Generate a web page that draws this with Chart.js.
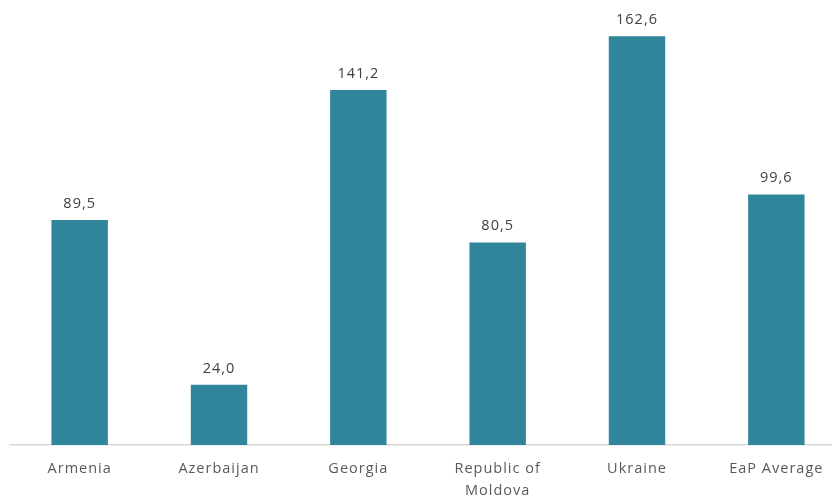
<!DOCTYPE html>
<html>
<head>
<meta charset="utf-8">
<script src="https://cdn.jsdelivr.net/npm/chart.js@4"></script>
<style>
  html, body { margin: 0; padding: 0; background: #fff; overflow: hidden; }
  #wrap { width: 846px; height: 500px; }
</style>
</head>
<body>
<div id="wrap"><canvas id="barChart"></canvas></div>
<script>
// Valores por país
const countries = ['Armenia', 'Azerbaijan', 'Georgia', ['Republic of', 'Moldova'], 'Ukraine', 'EaP Average'];
const values = [89.5, 24.0, 141.2, 80.5, 162.6, 99.6];

const barColor = '#31869b';
const textColor = '#595959';

// Rótulos de valor acima de cada barra (vírgula decimal)
const valueLabels = {
    id: 'valueLabels',
    afterDatasetsDraw(chart) {
        const ctx = chart.ctx;
        const meta = chart.getDatasetMeta(0);
        ctx.save();
        ctx.font = '14.5px "Open Sans"';
        ctx.fillStyle = '#404040';
        ctx.textAlign = 'center';
        ctx.textBaseline = 'bottom';
        meta.data.forEach((bar, i) => {
            ctx.fillText(values[i].toFixed(1).replace('.', ','), bar.x, bar.y - 9);
        });
        ctx.restore();
    }
};

// Espaçamento entre letras, como no original
const spacing = {
    id: 'spacing',
    beforeDraw(chart) {
        chart.ctx.letterSpacing = '1px';
    }
};

new Chart(document.getElementById('barChart'), {
    type: 'bar',
    data: {
        labels: countries,
        datasets: [{
            data: values,
            backgroundColor: barColor,
            categoryPercentage: 1,
            barPercentage: 0.405
        }]
    },
    options: {
        responsive: true,
        maintainAspectRatio: false,
        animation: false,
        layout: { padding: { left: 10, right: 0, top: 0, bottom: 0 } },
        plugins: {
            legend: { display: false },
            tooltip: { enabled: false }
        },
        scales: {
            x: {
                grid: { display: false, drawTicks: false },
                border: { color: '#d9d9d9', width: 1.5 },
                ticks: {
                    color: textColor,
                    font: { family: '"Open Sans"', size: 14.5, lineHeight: 1.5 },
                    padding: 13,
                    maxRotation: 0,
                    autoSkip: false
                },
                afterFit(scale) { scale.height = 55; }
            },
            y: {
                display: false,
                min: 0,
                max: 177
            }
        }
    },
    plugins: [spacing, valueLabels]
});
</script>
</body>
</html>
